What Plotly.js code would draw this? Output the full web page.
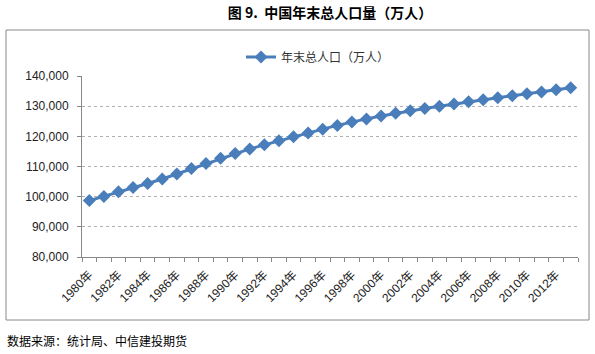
<!DOCTYPE html>
<html>
<head>
<meta charset="utf-8">
<script src="https://cdn.plot.ly/plotly-3.0.1.min.js"></script>
<style>html,body{margin:0;padding:0;background:#fff;}#chart{width:595px;height:354px;}</style>
</head>
<body>
<div id="chart"></div>
<script>
var years = [1980,1981,1982,1983,1984,1985,1986,1987,1988,1989,1990,1991,1992,1993,1994,1995,1996,1997,1998,1999,2000,2001,2002,2003,2004,2005,2006,2007,2008,2009,2010,2011,2012,2013];
var population = [98705,100072,101654,103008,104357,105851,107507,109300,111026,112704,114333,115823,117171,118517,119850,121121,122389,123626,124761,125786,126743,127627,128453,129227,129988,130756,131448,132129,132802,133450,134091,134735,135404,136072];
var tickYears = [1980,1982,1984,1986,1988,1990,1992,1994,1996,1998,2000,2002,2004,2006,2008,2010,2012];
var tickLabels = tickYears.map(function(y){return y + '年';});
var seriesName = '年末总人口（万人）';
var chartTitle = '图 9.  中国年末总人口量（万人）';
var sourceText = '数据来源：统计局、中信建投期货';

var cjk = '"Liberation Sans", "Noto Sans CJK SC", sans-serif';

var trace = {
  x: years, y: population, type: 'scatter', mode: 'lines+markers',
  name: seriesName,
  line: {color: '#4A7EBB', width: 3},
  marker: {symbol: 'diamond', size: 10, color: '#4A7EBB', line: {width: 0}}
};

var L = 82, R = 17, T = 76, B = 97, W = 595 - L - R, H = 354 - T - B;
function px(x){return (x - L) / W;}
function py(y){return (354 - B - y) / H;}

var layout = {
  width: 595, height: 354,
  margin: {l: L, r: R, t: T, b: B, pad: 0},
  paper_bgcolor: '#fff', plot_bgcolor: '#fff',
  font: {family: cjk, size: 12, color: '#222'},
  title: {text: '<b>' + chartTitle + '</b>', x: 0.5, xref: 'paper', xanchor: 'center', y: 1 - 13/354, yref: 'container', yanchor: 'middle', font: {family: '"Noto Sans CJK SC", sans-serif', size: 14, color: '#000'}},
  showlegend: true,
  legend: {x: px(241), y: py(57), xanchor: 'left', yanchor: 'middle', bgcolor: 'rgba(0,0,0,0)', font: {size: 12, color: '#333'}, itemwidth: 30},
  xaxis: {
    type: 'linear', range: [1979.5, 2013.5], showgrid: false, zeroline: false,
    showline: true, linecolor: '#888', linewidth: 1,
    tickmode: 'array', tickvals: tickYears, ticktext: tickLabels, ticks: '', tickangle: -45,
    ticklabelstandoff: 5,
    tickfont: {size: 12, color: '#222'},
    minor: {ticks: 'outside', ticklen: 4, tickcolor: '#888', tick0: 1979.5, dtick: 1, showgrid: false}
  },
  yaxis: {
    range: [80000, 140000], dtick: 10000, tickformat: ',d',
    showgrid: true, gridcolor: '#b0b0b0', griddash: 'dot', gridwidth: 1, zeroline: false,
    showline: true, linecolor: '#888', linewidth: 1, ticks: 'outside', ticklen: 4, tickcolor: '#888',
    ticklabelstandoff: 6,
    tickfont: {size: 12, color: '#222'}
  },
  shapes: [{type: 'rect', xref: 'paper', yref: 'paper', x0: px(6), x1: px(589), y0: py(320), y1: py(30), line: {color: '#888', width: 1}, fillcolor: 'rgba(0,0,0,0)', layer: 'below'}],
  annotations: [
    {text: sourceText, xref: 'paper', yref: 'paper', x: px(5), y: py(340), xanchor: 'left', yanchor: 'middle', showarrow: false, font: {family: '"Noto Sans CJK SC", sans-serif', size: 12, color: '#000'}}
  ]
};

Plotly.newPlot('chart', [trace], layout, {displayModeBar: false, staticPlot: true});
</script>
</body>
</html>
